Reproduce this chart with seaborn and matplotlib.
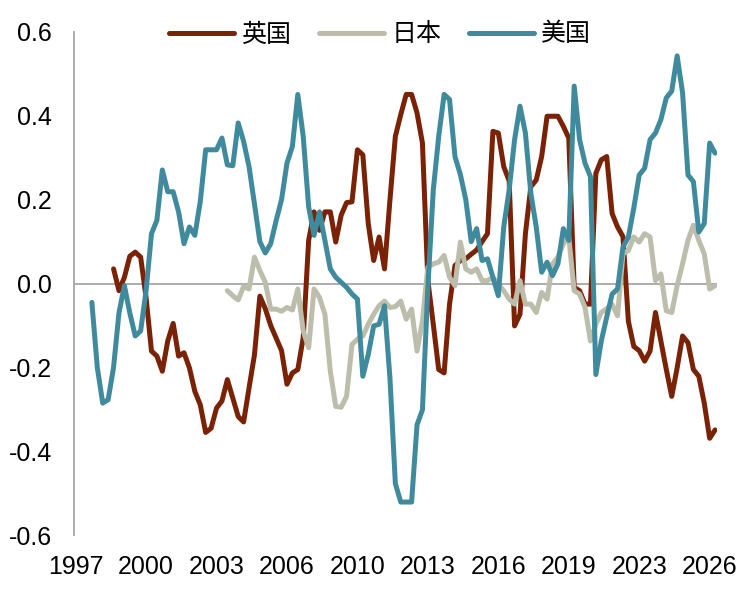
import numpy as np
import pandas as pd
import matplotlib
matplotlib.use('Agg')
import matplotlib.pyplot as plt
import seaborn as sns
from matplotlib.ticker import FormatStrFormatter

# quarterly, 1997Q1 .. 2026Q3
quarters = pd.period_range('1997Q1', '2026Q3', freq='Q')

uk = [0.035, -0.017, 0.015, 0.065, 0.075, 0.063, -0.033, -0.161, -0.173, -0.209,
      -0.137, -0.095, -0.173, -0.165, -0.201, -0.257, -0.289, -0.355, -0.345, -0.297,
      -0.280, -0.229, -0.273, -0.317, -0.330, -0.249, -0.170, -0.030, -0.060, -0.100,
      -0.130, -0.160, -0.240, -0.213, -0.205, -0.129, 0.103, 0.171, 0.127, 0.171,
      0.171, 0.099, 0.163, 0.193, 0.195, 0.319, 0.307, 0.143, 0.055, 0.111,
      0.035, 0.199, 0.351, 0.403, 0.451, 0.451, 0.407, 0.335, 0.007, -0.097,
      -0.205, -0.213, -0.049, 0.043, 0.055, 0.059, 0.070, 0.080, 0.100, 0.119,
      0.363, 0.359, 0.279, 0.245, -0.101, -0.073, 0.119, 0.231, 0.247, 0.303,
      0.399, 0.399, 0.399, 0.375, 0.347, -0.009, -0.017, -0.049, -0.049, 0.263,
      0.295, 0.303, 0.167, 0.135, 0.112, -0.090, -0.150, -0.160, -0.185, -0.161,
      -0.069, -0.137, -0.205, -0.269, -0.201, -0.125, -0.141, -0.205, -0.221, -0.285,
      -0.369, -0.349]

japan = [-0.017, -0.029, -0.039, -0.007, -0.013, 0.063, 0.031, 0.003, -0.061, -0.061,
         -0.066, -0.057, -0.063, -0.013, -0.113, -0.153, -0.013, -0.033, -0.073, -0.209,
         -0.293, -0.295, -0.269, -0.145, -0.133, -0.125, -0.097, -0.073, -0.053, -0.042,
         -0.057, -0.055, -0.042, -0.085, -0.061, -0.161, -0.089, 0.039, 0.047, 0.051,
         0.067, 0.015, -0.005, 0.099, 0.035, 0.027, 0.035, 0.007, 0.007, 0.015,
         -0.001, -0.017, -0.037, -0.049, 0.007, -0.049, -0.049, -0.069, -0.021, -0.037,
         0.047, 0.063, 0.095, 0.111, -0.017, -0.025, -0.057, -0.137, -0.097, -0.069,
         -0.060, -0.049, -0.077, 0.071, 0.079, 0.111, 0.099, 0.119, 0.111, 0.007,
         0.023, -0.065, -0.069, -0.005, 0.047, 0.103, 0.139, 0.103, 0.071, -0.013,
         -0.005]

us = [-0.045, -0.200, -0.285, -0.277, -0.200, -0.070, -0.005, -0.070, -0.125, -0.113,
      -0.017, 0.119, 0.151, 0.271, 0.219, 0.219, 0.171, 0.095, 0.135, 0.115,
      0.195, 0.319, 0.319, 0.319, 0.347, 0.283, 0.281, 0.383, 0.339, 0.279,
      0.190, 0.100, 0.073, 0.095, 0.150, 0.200, 0.287, 0.327, 0.451, 0.351,
      0.183, 0.115, 0.171, 0.103, 0.035, 0.015, 0.003, -0.009, -0.025, -0.037,
      -0.221, -0.169, -0.101, -0.097, -0.053, -0.225, -0.477, -0.521, -0.521, -0.521,
      -0.337, -0.301, -0.009, 0.223, 0.351, 0.451, 0.439, 0.303, 0.260, 0.200,
      0.100, 0.131, 0.055, 0.059, 0.015, -0.029, 0.135, 0.223, 0.343, 0.423,
      0.359, 0.215, 0.135, 0.027, 0.051, 0.019, 0.047, 0.131, 0.103, 0.471,
      0.343, 0.287, 0.255, -0.217, -0.137, -0.080, -0.025, -0.013, 0.087, 0.111,
      0.180, 0.259, 0.275, 0.343, 0.359, 0.391, 0.443, 0.459, 0.543, 0.455,
      0.259, 0.243, 0.123, 0.143, 0.335, 0.311]

names = ['英国', '日本', '美国']
colors = ['#7a2206', '#bcbdab', '#3f8a9d']


def pad(vals):
    # all series end at the last quarter
    return [np.nan] * (len(quarters) - len(vals)) + vals


df = pd.DataFrame({'q': np.arange(len(quarters)),
                   '英国': pad(uk), '日本': pad(japan), '美国': pad(us)})
long = df.melt(id_vars='q', var_name='country', value_name='value').dropna()

sns.set_style('white')
plt.rcParams['font.family'] = ['Liberation Sans', 'Noto Sans CJK SC']
plt.rcParams['axes.unicode_minus'] = False
plt.rcParams['text.color'] = 'black'
plt.rcParams['xtick.color'] = 'black'
plt.rcParams['ytick.color'] = 'black'

fig = plt.figure(figsize=(7.55, 5.92), dpi=100)
ax = fig.add_axes([0.098, 0.096, 0.852, 0.85])

ax.axhline(0, color='#a6a6a6', lw=1.3, zorder=1)
sns.lineplot(data=long, x='q', y='value', hue='country', hue_order=names,
             palette=dict(zip(names, colors)), lw=3.6, ax=ax, zorder=3)

tick_pos = np.arange(0, len(quarters), 13)
ax.set_xticks(tick_pos)
ax.set_xticklabels([str(quarters[i].year) for i in tick_pos])
ax.set_xlim(-0.3, 118.4)
ax.set_ylim(-0.6, 0.6)
ax.set_yticks(np.arange(-0.6, 0.61, 0.2))
ax.yaxis.set_major_formatter(FormatStrFormatter('%.1f'))
ax.set_xlabel('')
ax.set_ylabel('')
ax.tick_params(axis='x', length=0, pad=14, labelsize=18, labelcolor='black')
ax.tick_params(axis='y', length=0, pad=16, labelsize=18, labelcolor='black')

for s in ['top', 'right', 'bottom']:
    ax.spines[s].set_visible(False)
ax.spines['left'].set_color('#a6a6a6')
ax.spines['left'].set_linewidth(1.3)

handles, labels = ax.get_legend_handles_labels()
leg = ax.legend(handles, labels, loc='center', bbox_to_anchor=(0.476, 0.995), ncol=3,
                frameon=False, fontsize=18, handlelength=2.6, handletextpad=0.3,
                columnspacing=1.1, borderaxespad=0)
for t in leg.get_texts():
    t.set_color('black')

fig.savefig('out.png', dpi=100)
